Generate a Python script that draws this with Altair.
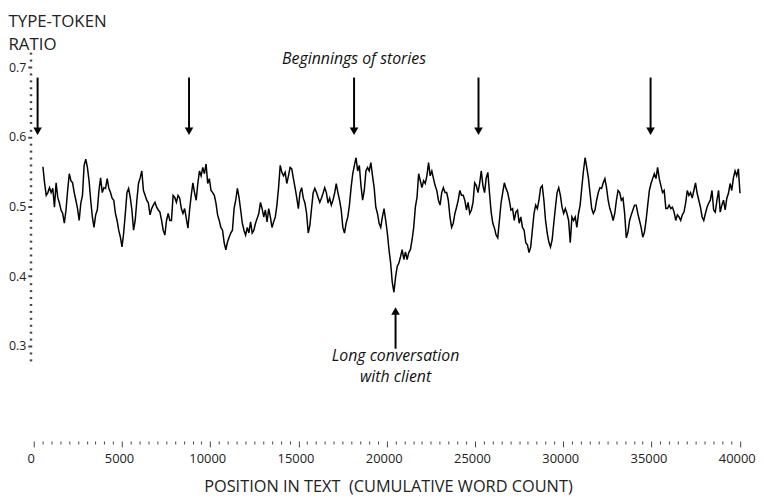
import altair as alt
import pandas as pd

TTR_A = [.557,.534,.516,.520,.527,.520,.526,.499,.534,.513,.505,.495,.490,.476,.495,.523,.547,.537,.534,.520,
         .509,.497,.480,.505,.516,.559,.568,.556,.537,.509,.485,.470,.488,.495,.523,.541,.520,.527,.526,.540,
         .526,.520,.512,.509,.490,.480,.466,.456,.442,.462,.490,.520,.526,.513,.495,.466,.480,.509,.533,.541,
         .551,.523,.516,.509,.505,.488,.497,.502,.506,.499,.495,.492,.480,.466,.459,.480,.490,.480,.480]
TTR_B = [.516,.513,.506,.516,.512,.497,.490,.497,.483,.469,.495,.516,.534,.520,.509,.533,.551,.544,.556,.547,
         .561,.533,.540,.523,.520,.516,.505,.488,.480,.470,.466,.448,.438,.449,.456,.462,.466,.497,.509,.526,
         .513,.495,.476,.466,.459,.470,.462,.478,.462,.466,.476,.483,.490,.506,.497,.485,.495,.478,.497,.485,
         .470,.478,.485,.502,.527,.559,.549,.544,.549,.533,.544,.556,.554,.540,.527,.513,.497,.520,.527,.512,
         .505,.490,.462,.473,.497,.520,.526]
TTR_C = [.520,.513,.506,.512,.519,.527,.520,.505,.512,.502,.509,.519,.533,.520,.509,.495,.470,.462,.476,.485,
         .502,.527,.547,.559,.570,.551,.559,.530,.509,.523,.551,.556,.551,.563,.544,.527,.499,.490,.476,.470,
         .485,.497,.480,.462,.438,.419,.391,.377,.399,.414,.419,.428,.438,.424,.435,.424,.434,.438,.452,.470,
         .499,.513,.547,.537,.527,.537,.533,.544,.563,.544,.551,.540,.530,.523,.509,.502,.520,.527,.520,.520,
         .509,.485,.470,.476,.490,.499,.509]
TTR_D = [.523,.516,.516,.509,.495,.506,.490,.495,.506,.534,.530,.520,.533,.551,.530,.520,.541,.549,.519,.492,
         .476,.469,.459,.455,.480,.505,.520,.534,.526,.520,.509,.495,.497,.480,.492,.495,.476,.485,.470,.466,
         .448,.445,.434,.442,.466,.490,.502,.497,.509,.527,.530,.509,.480,.462,.449,.442,.452,.476,.499,.520,
         .527,.516,.499,.490,.497,.490,.480,.448,.485,.480,.485,.470,.490,.502,.527,.551,.570,.556,.541,.519,
         .497,.490,.495,.509,.520,.527,.526]
TTR_E = [.534,.540,.527,.509,.497,.490,.480,.490,.509,.523,.520,.509,.512,.490,.455,.463,.480,.488,.495,.502,
         .502,.490,.480,.470,.456,.463,.480,.502,.523,.533,.540,.547,.540,.556,.540,.530,.520,.523,.497,.497,
         .502,.497,.499,.492,.480,.488,.485,.480,.488,.492,.505,.523,.516,.520,.512,.523,.534,.519,.509,.499,
         .485,.480,.490,.499,.505,.509,.523,.495,.492,.509,.523,.492,.502,.509,.495,.512,.519,.533,.523,.541,
         .551,.544,.554,.519]
POS_START = 521      # word position of first sample
POS_STEP = 93.37     # words between samples

STORY_STARTS = [220, 8800, 18150, 25200, 34950]
STORY_ARROW_TOP = 0.685
STORY_ARROW_END = 0.612
STORY_HEAD = 0.608
STORY_LABEL = "Beginnings of stories"
STORY_LABEL_POS = (18150, 0.705)

CONV_POS = 20500
CONV_ARROW_BOTTOM = 0.296
CONV_ARROW_END = 0.346
CONV_HEAD = 0.350
CONV_LINES = ["Long conversation", "with client"]
CONV_LINE_Y = [0.278, 0.248]

X_TICKS = list(range(0, 40001, 500))
Y_TICKS = [round(0.28 + 0.01 * i, 2) for i in range(45)]

ttr = TTR_A + TTR_B + TTR_C + TTR_D + TTR_E
line_df = pd.DataFrame({"pos": [POS_START + POS_STEP * i for i in range(len(ttr))], "val": ttr})

FONT = "Open Sans"
xscale = alt.Scale(domain=[-112, 40250], nice=False, zero=False)
yscale = alt.Scale(domain=[0.28, 0.72], nice=False, zero=False)

xaxis = alt.Axis(
    values=X_TICKS, format="d", domain=False, grid=False,
    labelExpr="datum.value % 5000 === 0 ? datum.label : ''",
    tickSize={"condition": {"test": "datum.value % 5000 === 0", "value": 6}, "value": 3},
    tickColor="#444", tickWidth=1, offset=82,
    labelFont=FONT, labelFontSize=13, labelColor="#222", labelBaseline="alphabetic",
    labelPadding=16, labelOverlap=False, labelFlush=False, labelOffset=-3,
    title="POSITION IN TEXT \u00a0(CUMULATIVE WORD COUNT)", titleFont=FONT, titleFontSize=16.5,
    titleFontWeight="normal", titleColor="#222", titleBaseline="alphabetic", titleY=51,
)
MAJOR_Y = "abs(datum.value*10 - round(datum.value*10)) < 0.001"
yaxis = alt.Axis(
    values=Y_TICKS, domain=False, grid=False,
    labelExpr=f"{MAJOR_Y} ? format(datum.value, '.1f') : ''",
    tickSize={"condition": {"test": MAJOR_Y, "value": 4}, "value": 2.5},
    tickColor="#444", tickWidth=2,
    labelFont=FONT, labelFontSize=12.5, labelColor="#222", labelPadding=2, labelOverlap=False,
    title=["TYPE-TOKEN", "RATIO"], titleFont=FONT, titleFontSize=17, titleFontWeight="normal",
    titleColor="#222", titleAngle=0, titleAlign="left", titleBaseline="alphabetic",
    titleX=-24, titleY=-27, titleLineHeight=23,
)

X = alt.X("pos:Q", scale=xscale, axis=xaxis)
Y = alt.Y("val:Q", scale=yscale, axis=yaxis)

line = alt.Chart(line_df).mark_line(color="black", strokeWidth=1.5).encode(x=X, y=Y)

story_df = pd.DataFrame({"pos": STORY_STARTS,
                         "val": [STORY_ARROW_TOP] * len(STORY_STARTS),
                         "val2": [STORY_ARROW_END] * len(STORY_STARTS),
                         "head": [STORY_HEAD] * len(STORY_STARTS)})
story_rules = alt.Chart(story_df).mark_rule(color="black", strokeWidth=2).encode(x=X, y=Y, y2="val2:Q")
story_heads = alt.Chart(story_df).mark_point(shape="triangle-down", filled=True, color="black",
                                             size=75, opacity=1).encode(
    x=X, y=alt.Y("head:Q", scale=yscale, axis=yaxis))

conv_df = pd.DataFrame({"pos": [CONV_POS], "val": [CONV_ARROW_BOTTOM], "val2": [CONV_ARROW_END],
                        "head": [CONV_HEAD]})
conv_rule = alt.Chart(conv_df).mark_rule(color="black", strokeWidth=2).encode(x=X, y=Y, y2="val2:Q")
conv_head = alt.Chart(conv_df).mark_point(shape="triangle-up", filled=True, color="black",
                                          size=75, opacity=1).encode(
    x=X, y=alt.Y("head:Q", scale=yscale, axis=yaxis))

text_df = pd.DataFrame({"pos": [STORY_LABEL_POS[0], CONV_POS, CONV_POS],
                        "val": [STORY_LABEL_POS[1]] + CONV_LINE_Y,
                        "txt": [STORY_LABEL] + CONV_LINES})
texts = alt.Chart(text_df).mark_text(font=FONT, fontSize=16, fontStyle="italic", color="#111",
                                     align="center", baseline="alphabetic").encode(
    x=X, y=Y, text="txt:N")

chart = alt.layer(line, story_rules, story_heads, conv_rule, conv_head, texts).properties(
    width=720, height=310,
    autosize=alt.AutoSizeParams(type="none"),
    padding={"left": 24, "top": 43, "right": 12, "bottom": 140},
    background="white",
).configure_view(stroke=None)

chart.save("out.html", embed_options={"renderer": "svg", "actions": False})
